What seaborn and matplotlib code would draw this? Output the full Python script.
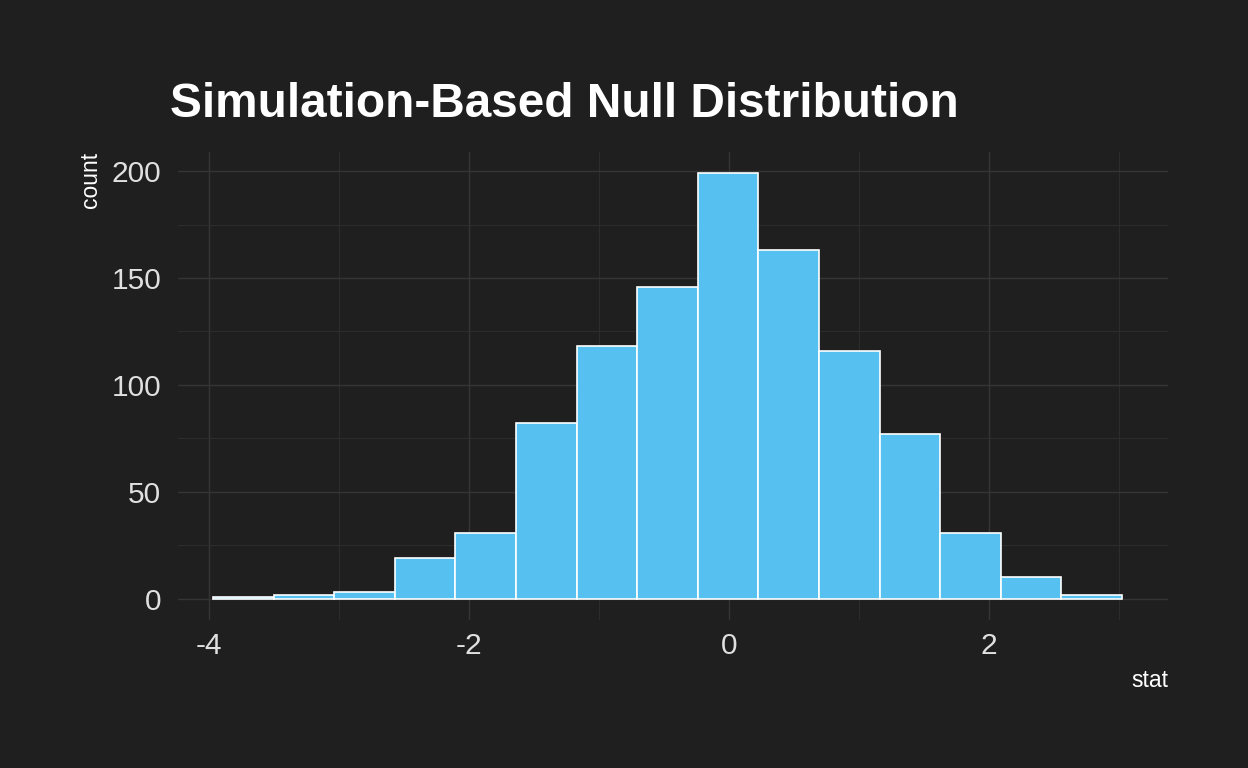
import numpy as np
import pandas as pd
import matplotlib
matplotlib.use("Agg")
import matplotlib.pyplot as plt
from matplotlib.ticker import MultipleLocator
import seaborn as sns

# Histogram bins (15 bins, width ~0.466)
bin_centers = [-3.736, -3.270, -2.804, -2.337, -1.871, -1.405, -0.939, -0.473,
               -0.006, 0.460, 0.926, 1.392, 1.858, 2.325, 2.791]
counts = [1, 2, 3, 19, 31, 82, 118, 146, 199, 163, 116, 77, 31, 10, 2]
bin_start, bin_end = -3.969, 3.024

df = pd.DataFrame({"stat": bin_centers, "count": counts})

bg = "#1f1f1f"
sns.set_theme(style="dark")
plt.rcParams["font.family"] = ["Liberation Sans", "DejaVu Sans"]
plt.rcParams["axes.unicode_minus"] = False

fig = plt.figure(figsize=(12.48, 7.68), dpi=100, facecolor=bg)
ax = fig.add_axes([0.1426, 0.193, 0.7933, 0.609])
ax.set_facecolor(bg)

sns.histplot(data=df, x="stat", weights="count", bins=15,
             binrange=(bin_start, bin_end), ax=ax,
             color="#56c1f0", edgecolor="white", linewidth=1.2, alpha=1)

ax.set_xlim(-4.238, 3.377)
ax.set_ylim(-9.8, 208.9)
ax.xaxis.set_major_locator(MultipleLocator(2))
ax.xaxis.set_minor_locator(MultipleLocator(1))
ax.yaxis.set_major_locator(MultipleLocator(50))
ax.yaxis.set_minor_locator(MultipleLocator(25))
ax.grid(which="major", color="#353535", linewidth=1.0)
ax.grid(which="minor", color="#2d2d2d", linewidth=0.7)
ax.set_axisbelow(True)
for s in ax.spines.values():
    s.set_visible(False)
ax.tick_params(which="both", length=0, colors="#e0e0e0", labelsize=21.5)
ax.tick_params(axis="x", pad=9)
ax.tick_params(axis="y", pad=12)

ax.set_xlabel("stat", color="white", fontsize=16.5, loc="right", labelpad=6)
ax.set_ylabel("count", color="white", fontsize=16.5, loc="top", labelpad=7)

fig.text(170 / 1248, 1 - 117 / 768, "Simulation-Based Null Distribution",
         color="white", fontsize=34.4, fontweight="bold", ha="left", va="baseline")

fig.savefig("out.png", dpi=100, facecolor=bg)
